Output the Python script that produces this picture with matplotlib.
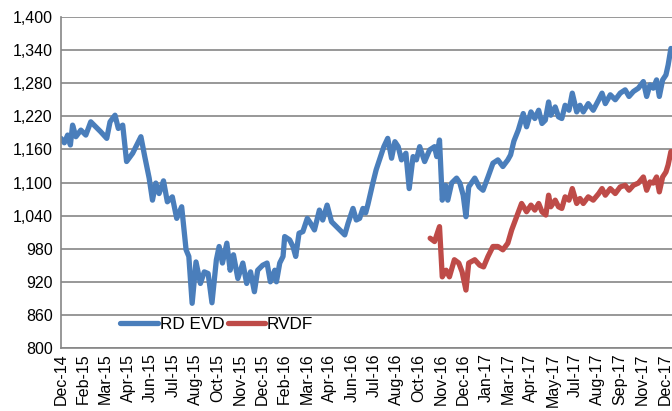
import matplotlib
matplotlib.use("Agg")
import matplotlib.pyplot as plt
import pandas as pd

plt.rcParams['font.family'] = ['Liberation Sans', 'DejaVu Sans']

# Days counted from the first axis date (Dec-14 tick)
start = pd.Timestamp('2014-12-29')

rd_days = [0, 6, 12, 17, 21, 27, 36, 45, 54, 63, 72, 83, 89, 98, 104, 112, 119, 130, 139, 145,
           152, 160, 166, 172, 178, 186, 193, 202, 210, 219, 227, 232, 238, 245, 253, 260, 267, 274,
           282, 287, 293, 301, 307, 313, 321, 330, 337, 344, 351, 357, 366, 374, 380, 388, 391, 397,
           403, 406, 415, 421, 426, 432, 439, 447, 453, 460, 469, 475, 483, 491, 500, 509, 515, 521,
           530, 536, 542, 548, 553, 557, 566, 572, 578, 586, 593, 600, 606, 612, 618, 626, 632, 639,
           645, 651, 660, 669, 678, 682, 687, 692, 698, 702, 709, 718, 724, 730, 735, 740, 751, 759,
           766, 775, 784, 793, 802, 811, 816, 822, 830, 839, 845, 853, 860, 867, 873, 879, 885, 889,
           897, 903, 909, 915, 922, 928, 936, 942, 948, 957, 966, 976, 982, 988, 997, 1006, 1015,
           1024, 1031, 1039, 1048, 1057, 1063, 1069, 1075, 1081, 1086, 1092, 1098, 1102, 1107]
rd_evd = [1180, 1172, 1186, 1168, 1204, 1183, 1195, 1186, 1210, 1201, 1192, 1180, 1210, 1222, 1198,
          1204, 1138, 1153, 1171, 1183, 1147, 1108, 1068, 1099, 1080, 1103, 1065, 1074, 1035, 1056,
          978, 966, 881, 956, 917, 938, 935, 882, 960, 984, 954, 990, 941, 969, 926, 954, 917, 938,
          902, 941, 950, 954, 920, 941, 920, 954, 966, 1002, 996, 984, 966, 1008, 1011, 1035, 1026,
          1014, 1050, 1032, 1059, 1029, 1020, 1011, 1005, 1026, 1053, 1032, 1035, 1053, 1045, 1060,
          1099, 1123, 1141, 1165, 1180, 1144, 1174, 1165, 1141, 1153, 1089, 1147, 1141, 1165, 1138,
          1159, 1165, 1147, 1177, 1068, 1095, 1068, 1099, 1108, 1099, 1077, 1038, 1092, 1108, 1092,
          1086, 1110, 1135, 1141, 1129, 1141, 1150, 1175, 1195, 1225, 1201, 1228, 1216, 1231, 1207,
          1213, 1246, 1222, 1237, 1219, 1216, 1240, 1231, 1262, 1228, 1240, 1228, 1243, 1231, 1250,
          1262, 1243, 1259, 1250, 1262, 1268, 1256, 1265, 1271, 1283, 1256, 1277, 1271, 1286, 1256,
          1286, 1295, 1313, 1343]

rvdf_days = [670, 678, 687, 692, 699, 705, 714, 722, 728, 735, 740, 751, 760, 767, 775, 784, 793,
             802, 811, 818, 827, 836, 845, 853, 860, 867, 873, 880, 885, 889, 897, 903, 909, 915,
             922, 928, 936, 942, 948, 957, 966, 976, 982, 988, 997, 1006, 1015, 1024, 1031, 1039,
             1048, 1057, 1063, 1069, 1075, 1081, 1086, 1092, 1098, 1102, 1107]
rvdf = [999, 993, 1020, 929, 941, 929, 960, 954, 938, 905, 954, 960, 950, 947, 966, 984, 984, 978,
        990, 1014, 1038, 1062, 1047, 1059, 1050, 1062, 1047, 1041, 1077, 1056, 1068, 1056, 1053,
        1074, 1068, 1089, 1062, 1071, 1062, 1074, 1068, 1080, 1089, 1077, 1089, 1080, 1092, 1095,
        1086, 1095, 1099, 1110, 1086, 1101, 1099, 1110, 1083, 1110, 1119, 1132, 1156]

tick_labels = ['Dec-14', 'Feb-15', 'Mar-15', 'Apr-15', 'Jun-15', 'Jul-15', 'Aug-15', 'Oct-15',
               'Nov-15', 'Dec-15', 'Feb-16', 'Mar-16', 'Apr-16', 'Jun-16', 'Jul-16', 'Aug-16',
               'Oct-16', 'Nov-16', 'Dec-16', 'Jan-17', 'Mar-17', 'Apr-17', 'May-17', 'Jul-17',
               'Aug-17', 'Sep-17', 'Nov-17', 'Dec-17']

rd_dates = start + pd.to_timedelta(rd_days, unit='D')
rvdf_dates = start + pd.to_timedelta(rvdf_days, unit='D')

fig = plt.figure(figsize=(6.72, 4.11), dpi=100)
ax = fig.add_axes([0.0908, 0.1533, 0.9092, 0.8053])

ax.plot(rd_dates, rd_evd, color='#4A7EBB', lw=3.8, solid_capstyle='round',
        solid_joinstyle='round', label='RD EVD')
ax.plot(rvdf_dates, rvdf, color='#BE4B48', lw=3.8, solid_capstyle='round',
        solid_joinstyle='round', label='RVDF')

# Axis formatting
ax.set_ylim(800, 1400)
ax.set_yticks(range(800, 1401, 60))
ax.set_yticklabels([f'{v:,}' for v in range(800, 1401, 60)])
ax.set_xlim(start, start + pd.Timedelta(days=1109))
ax.set_xticks(pd.date_range(start, start + pd.Timedelta(days=1096), periods=len(tick_labels)))
ax.set_xticklabels(tick_labels, rotation=90)

ax.grid(True, axis='y', color='#868686', lw=1.2)
ax.set_axisbelow(True)
for s in ['top', 'right']:
    ax.spines[s].set_visible(False)
for s in ['left', 'bottom']:
    ax.spines[s].set_color('#868686')
    ax.spines[s].set_linewidth(1.2)
ax.tick_params(length=0, labelsize=11.5, colors='black', pad=6)
ax.tick_params(axis='x', pad=4)

ax.legend(loc='center left', bbox_to_anchor=(0.097, 0.07), ncol=2, frameon=False,
          fontsize=12.3, handlelength=2.2, handletextpad=0.1, columnspacing=0.2,
          borderpad=0, borderaxespad=0)

fig.savefig('out.png', dpi=100)
